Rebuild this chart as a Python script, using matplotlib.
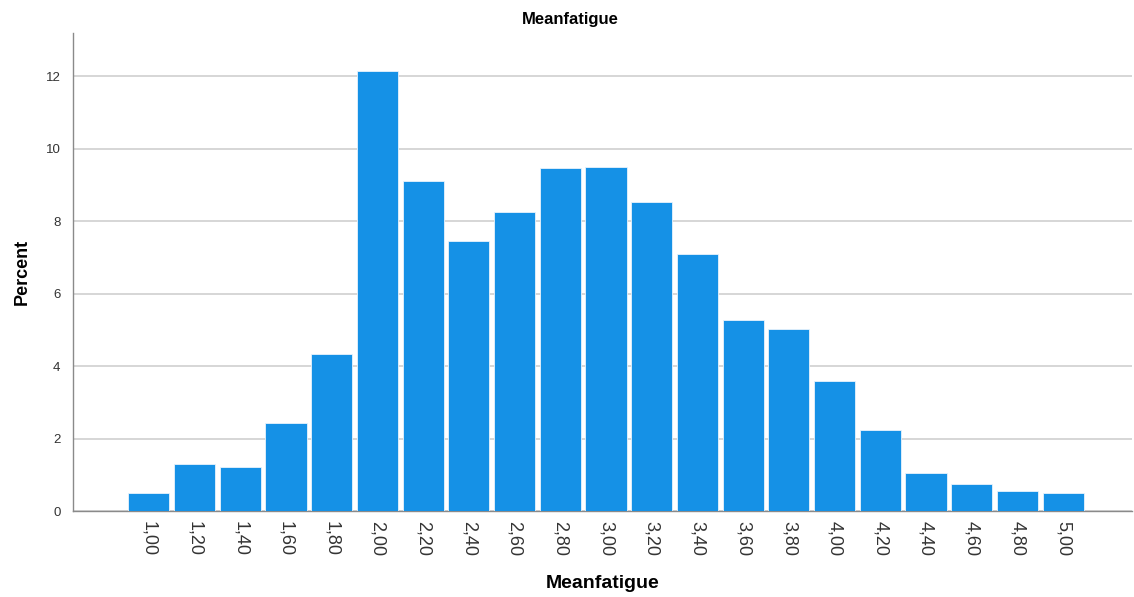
import matplotlib.pyplot as plt

# bin centres and percent per bin
bins = [1.00, 1.20, 1.40, 1.60, 1.80, 2.00, 2.20, 2.40, 2.60, 2.80, 3.00,
        3.20, 3.40, 3.60, 3.80, 4.00, 4.20, 4.40, 4.60, 4.80, 5.00]
percent = [0.50, 1.31, 1.21, 2.43, 4.33, 12.14, 9.10, 7.45, 8.25, 9.46, 9.49,
           8.52, 7.09, 5.27, 5.02, 3.59, 2.23, 1.06, 0.74, 0.54, 0.50]
tick_labels = ['%.2f' % b for b in bins]
tick_labels = [t.replace('.', ',') for t in tick_labels]
yticks = [0, 2, 4, 6, 8, 10, 12]

plt.rcParams['font.family'] = ['Liberation Sans', 'DejaVu Sans']

fig = plt.figure(figsize=(11.34, 5.97), dpi=100)
ax = fig.add_axes([0.0644, 0.144, 0.9336, 0.8007])

ax.bar(bins, percent, width=0.18, color='#1591e6', edgecolor='#e8f3fc',
       linewidth=0.6, zorder=3)

ax.set_xlim(0.668, 5.30)
ax.set_ylim(0, 13.2)
ax.set_yticks(yticks)
ax.set_xticks(bins)
ax.set_xticklabels(tick_labels, rotation=270, fontsize=13, color='#333333')
ax.tick_params(axis='y', labelsize=9.5, colors='#333333', length=0, pad=9)
ax.tick_params(axis='x', length=0, pad=7)
ax.grid(axis='y', color='#d0d0d0', linewidth=1.2, zorder=0)

for s in ['top', 'right']:
    ax.spines[s].set_visible(False)
for s in ['left', 'bottom']:
    ax.spines[s].set_color('#8a8a8a')
    ax.spines[s].set_linewidth(1.0)

ax.set_xlabel('Meanfatigue', fontsize=14, fontweight='bold', labelpad=14)
ax.set_ylabel('Percent', fontsize=13, fontweight='bold', labelpad=11)
fig.text(0.503, 0.968, 'Meanfatigue', ha='center', va='center',
         fontsize=12, fontweight='bold')

fig.savefig('out.png', dpi=100)
